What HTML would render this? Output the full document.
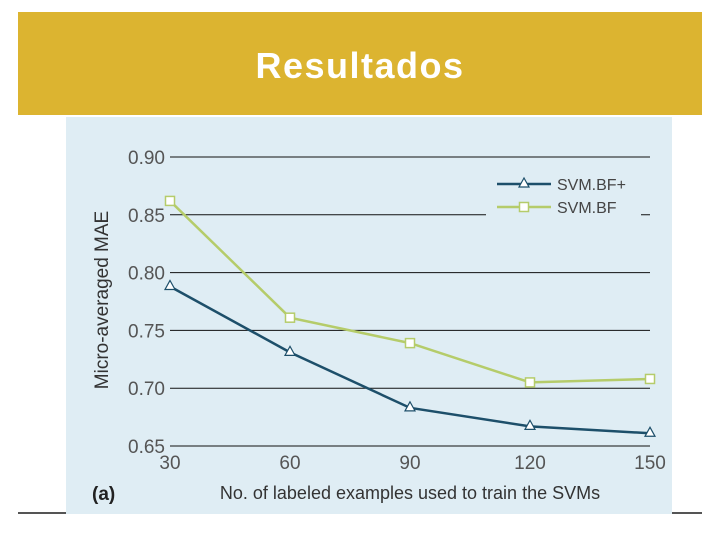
<!DOCTYPE html>
<html><head><style>
body{margin:0;width:720px;height:540px;background:#fff;overflow:hidden;font-family:"Liberation Sans",sans-serif}
</style></head><body>
<div style="position:absolute;left:18px;top:12px;width:684px;height:103px;background:#dcb430"></div>
<div style="position:absolute;left:18px;top:45px;width:684px;text-align:center;color:#fff;font-weight:bold;font-size:36px;letter-spacing:1.5px">Resultados</div>
<div style="position:absolute;left:18px;top:512px;width:684px;height:2px;background:#555"></div>
<svg width="720" height="540" style="position:absolute;left:0;top:0">
<rect x="66" y="117" width="606" height="397" fill="#dfedf4"/>
<g id="grid"></g><g id="series"></g>
<g>
<rect x="486" y="170" width="155" height="46" fill="#dfedf4"/>
<line x1="497" y1="184" x2="551" y2="184" stroke="#1d4f6a" stroke-width="2.5"/>
<polygon points="524,178 519,187 529,187" fill="#fff" stroke="#1d4f6a" stroke-width="1.2"/>
<text x="557" y="190" font-size="16" fill="#444">SVM.BF+</text>
<line x1="497" y1="207" x2="551" y2="207" stroke="#b5cc6a" stroke-width="2.5"/>
<rect x="519.5" y="202.5" width="9" height="9" fill="#fff" stroke="#b5cc6a" stroke-width="1.5"/>
<text x="557" y="213" font-size="16" fill="#444">SVM.BF</text>
</g>
<text x="108" y="300" font-size="19" fill="#333" text-anchor="middle" transform="rotate(-90 108 300)">Micro-averaged MAE</text>
<text x="92" y="500" font-size="19" font-weight="bold" fill="#222">(a)</text>
<text x="410" y="499" font-size="18" fill="#333" text-anchor="middle">No. of labeled examples used to train the SVMs</text>
</svg>
<script>
const xCats=[30,60,90,120,150];
const yTicks=[0.65,0.70,0.75,0.80,0.85,0.90];
const bfPlus=[0.788,0.731,0.683,0.667,0.661];
const bf=[0.862,0.761,0.739,0.705,0.708];
const NS="http://www.w3.org/2000/svg";
const X=v=>170+(v-30)/120*480;
const Y=v=>157+(0.90-v)/0.25*289;
const g=document.getElementById('grid'),s=document.getElementById('series');
function mk(tag,at,par){const e=document.createElementNS(NS,tag);for(const k in at)e.setAttribute(k,at[k]);par.appendChild(e);return e;}
yTicks.forEach(t=>{
 const l=mk('line',{x1:170,x2:650,y1:Y(t),y2:Y(t),stroke:'#111','stroke-width':1},g);
 
 
 const tx=mk('text',{x:165,y:Y(t)+7,'font-size':19,fill:'#555','text-anchor':'end'},g);
 tx.textContent=t.toFixed(2);
 
 
});
xCats.forEach(c=>{
 const tx=mk('text',{x:X(c),y:469,'font-size':19,fill:'#555','text-anchor':'middle'},g);
 tx.textContent=c;
 
 
});
function series(vals,col,tri,name){
 const p=mk('polyline',{points:vals.map((v,i)=>X(xCats[i])+','+Y(v)).join(' '),fill:'none',stroke:col,'stroke-width':2.5},s);
 
 
 vals.forEach((v,i)=>{
  const x=X(xCats[i]),y=Y(v);let m;
  if(tri)m=mk('polygon',{points:`${x},${y-6} ${x-5},${y+3} ${x+5},${y+3}`,fill:'#fff',stroke:col,'stroke-width':1.2},s);
  else m=mk('rect',{x:x-4.5,y:y-4.5,width:9,height:9,fill:'#fff',stroke:col,'stroke-width':1.5},s);
  
  
 });
}
series(bf,'#b5cc6a',false,'svm-bf');
series(bfPlus,'#1d4f6a',true,'svm-bf-plus');
</script>
</body></html>
